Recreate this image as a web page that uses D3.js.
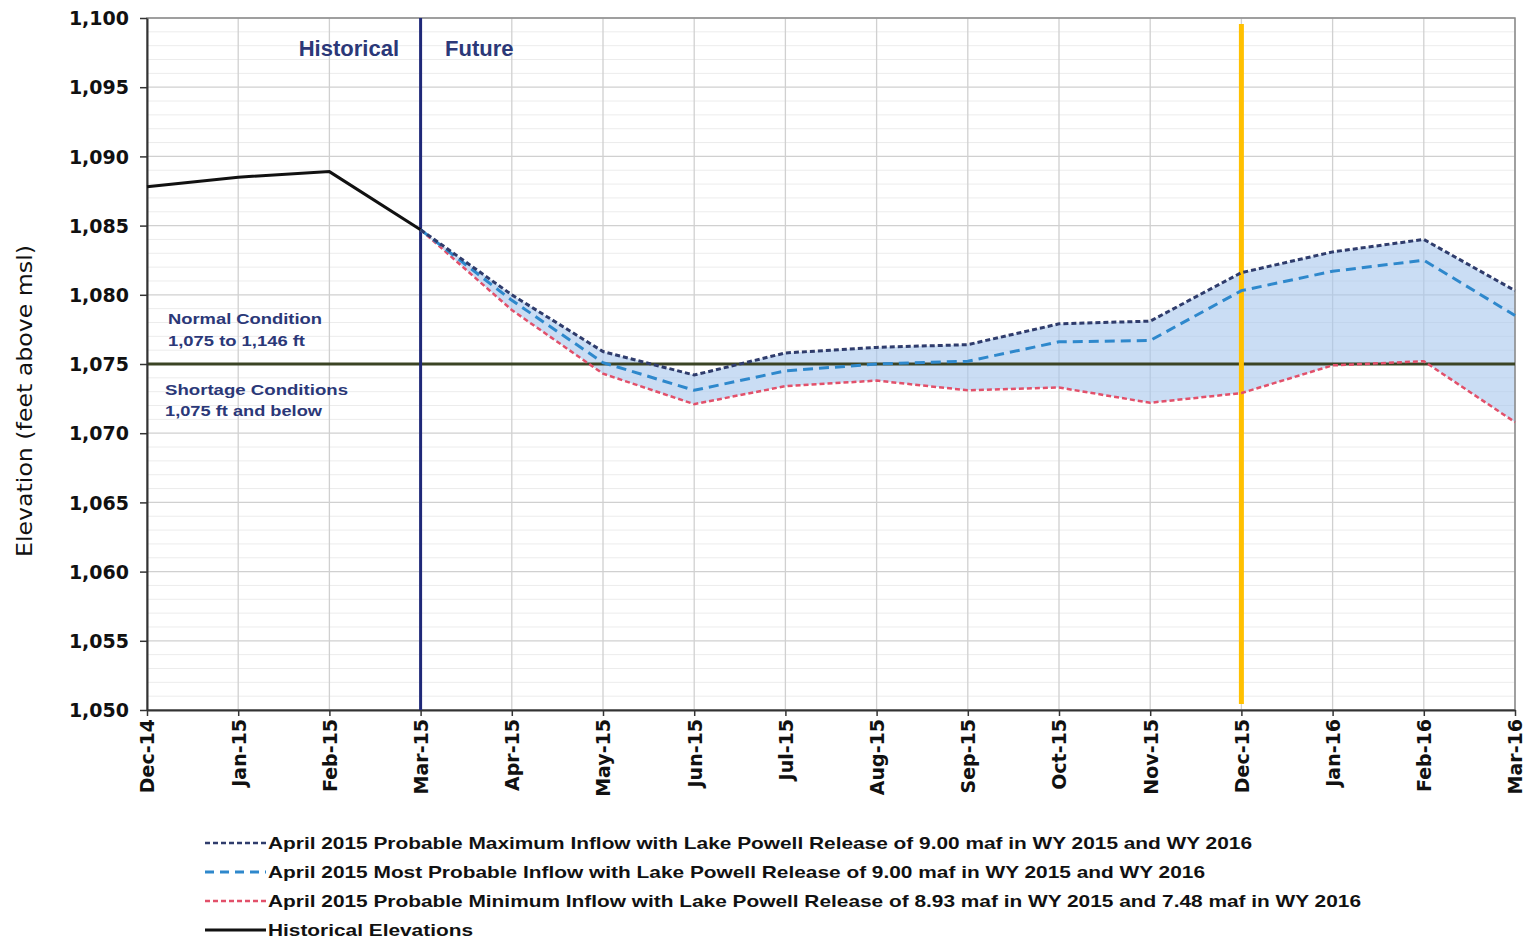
<!DOCTYPE html>
<html><head><meta charset="utf-8">
<script src="https://cdn.jsdelivr.net/npm/d3@7"></script>
<style>body{margin:0;background:#fff}svg{display:block}</style>
</head><body>
<svg id="c" width="1527" height="943"></svg>
<script>
const months = ["Dec-14","Jan-15","Feb-15","Mar-15","Apr-15","May-15","Jun-15","Jul-15","Aug-15","Sep-15","Oct-15","Nov-15","Dec-15","Jan-16","Feb-16","Mar-16"];
const historical = [1087.8,1088.5,1088.9,1084.7];
const futureMonths = months.slice(3);
const maxInflow  = [1084.7,1080.0,1075.9,1074.2,1075.8,1076.2,1076.4,1077.9,1078.1,1081.6,1083.1,1084.0,1080.3];
const mostProb   = [1084.7,1079.6,1075.1,1073.1,1074.5,1075.0,1075.2,1076.6,1076.7,1080.3,1081.7,1082.5,1078.5];
const minInflow  = [1084.7,1078.9,1074.3,1072.1,1073.4,1073.8,1073.1,1073.3,1072.2,1072.9,1074.9,1075.2,1070.8];
const yTicks = [1050,1055,1060,1065,1070,1075,1080,1085,1090,1095,1100];
const legendLabels = [
 "April 2015 Probable Maximum Inflow with Lake Powell Release of 9.00 maf in WY 2015 and WY 2016",
 "April 2015 Most Probable Inflow with Lake Powell Release of 9.00 maf in WY 2015 and WY 2016",
 "April 2015 Probable Minimum Inflow with Lake Powell Release of 8.93 maf in WY 2015 and 7.48 maf in WY 2016",
 "Historical Elevations"];
const shortageLevel = 1075;
const dividerMonth = "Mar-15";
const highlightMonth = "Dec-15";

const svg = d3.select("#c");
const L=147,R=1515,T=18,B=710;
const x = d3.scalePoint().domain(months).range([L,R]);
const y = d3.scaleLinear().domain([1050,1100]).range([B,T]);

// minor gridlines
svg.append("g").selectAll("line").data(d3.range(1051,1100).filter(v=>v%5!==0)).join("line")
 .attr("x1",L).attr("x2",R).attr("y1",d=>y(d)).attr("y2",d=>y(d))
 .attr("stroke","#ececec").attr("stroke-width",1);
// major horizontal grid
svg.append("g").selectAll("line").data(yTicks).join("line")
 .attr("x1",L).attr("x2",R).attr("y1",d=>y(d)).attr("y2",d=>y(d))
 .attr("stroke","#d0d0d0").attr("stroke-width",1.3);
// vertical grid
svg.append("g").selectAll("line").data(months).join("line")
 .attr("x1",d=>x(d)).attr("x2",d=>x(d)).attr("y1",T).attr("y2",B)
 .attr("stroke","#d0d0d0").attr("stroke-width",1.3);

// band fill
const band = futureMonths.map((m,i)=>({m,hi:maxInflow[i],lo:minInflow[i]}));
svg.append("path").datum(band)
 .attr("d",d3.area().x(d=>x(d.m)).y0(d=>y(d.lo)).y1(d=>y(d.hi)))
 .attr("fill","#a6c6ec").attr("fill-opacity",0.6);

// frame
svg.append("rect").attr("x",L).attr("y",T).attr("width",R-L).attr("height",B-T)
 .attr("fill","none").attr("stroke","#8a8a8a").attr("stroke-width",1.5);

// shortage line
svg.append("line").attr("x1",L).attr("x2",R).attr("y1",y(shortageLevel)).attr("y2",y(shortageLevel))
 .attr("stroke","#3b4424").attr("stroke-width",3);

// axes
const yAxis = svg.append("g").attr("transform",`translate(${L},0)`)
 .call(d3.axisLeft(y).tickValues(yTicks).tickFormat(d3.format(",")).tickSize(7).tickSizeOuter(0));
yAxis.select(".domain").attr("stroke","#333").attr("stroke-width",2);
yAxis.selectAll(".tick line").attr("stroke","#333").attr("stroke-width",1.5);
yAxis.selectAll("text").attr("font-family","DejaVu Sans").attr("font-weight","bold").attr("font-size","19px").attr("fill","#111").attr("x",-18).attr("dy","0.35em");

const xAxis = svg.append("g").attr("transform",`translate(0,${B})`)
 .call(d3.axisBottom(x).tickSize(6).tickSizeOuter(0));
xAxis.select(".domain").attr("stroke","#333").attr("stroke-width",2);
xAxis.selectAll(".tick line").attr("stroke","#333").attr("stroke-width",1.5);
xAxis.selectAll("text").attr("font-family","DejaVu Sans").attr("font-weight","bold").attr("font-size","19px").attr("fill","#111")
 .attr("transform","rotate(-90)").attr("text-anchor","end").attr("x",-9).attr("y",0).attr("dy","0.36em");

// Y title
svg.append("text").attr("transform",`translate(32,401) rotate(-90)`)
 .attr("text-anchor","middle").attr("font-family","DejaVu Sans").attr("font-size","21px").attr("fill","#111")
 .attr("textLength",312).attr("lengthAdjust","spacingAndGlyphs")
 .text("Elevation (feet above msl)");

// divider line
svg.append("line").attr("x1",x(dividerMonth)).attr("x2",x(dividerMonth)).attr("y1",T).attr("y2",B)
 .attr("stroke","#1f2878").attr("stroke-width",3);
// highlight line
svg.append("line").attr("x1",x(highlightMonth)).attr("x2",x(highlightMonth)).attr("y1",24).attr("y2",704)
 .attr("stroke","#ffc000").attr("stroke-width",5);

// historical line
svg.append("path").datum(months.slice(0,4).map((m,i)=>({m,v:historical[i]})))
 .attr("d",d3.line().x(d=>x(d.m)).y(d=>y(d.v)))
 .attr("fill","none").attr("stroke","#111").attr("stroke-width",3);

const seriesDefs = [
 {vals:minInflow,color:"#e2506a",dash:"5,3",w:2.5},
 {vals:mostProb,color:"#2e88cc",dash:"10,6",w:3},
 {vals:maxInflow,color:"#2f3c6c",dash:"5,3",w:3}
];
seriesDefs.forEach(s=>{
 svg.append("path").datum(futureMonths.map((m,i)=>({m,v:s.vals[i]})))
  .attr("d",d3.line().x(d=>x(d.m)).y(d=>y(d.v)))
  .attr("fill","none").attr("stroke",s.color).attr("stroke-width",s.w).attr("stroke-dasharray",s.dash);
});

// annotations
const navy="#2b3878";
svg.append("text").attr("x",399).attr("y",56).attr("text-anchor","end").attr("font-family","Liberation Sans").attr("font-weight","bold").attr("font-size","22px").attr("fill",navy).text("Historical");
svg.append("text").attr("x",445).attr("y",56).attr("font-family","Liberation Sans").attr("font-weight","bold").attr("font-size","22px").attr("fill",navy).text("Future");
const ann=[["Normal Condition",168,324,154],["1,075 to 1,146 ft",168,346,137],["Shortage  Conditions",165,395,183],["1,075 ft and below",165,416,157]];
ann.forEach(a=>svg.append("text").attr("x",a[1]).attr("y",a[2]).attr("font-family","Liberation Sans").attr("font-weight","bold").attr("font-size","15px").attr("fill",navy)
 .attr("textLength",a[3]).attr("lengthAdjust","spacingAndGlyphs").text(a[0]));

// legend
const legStyles=[{color:"#2f3c6c",dash:"5,3",w:2.5},{color:"#2e88cc",dash:"9,6",w:3},{color:"#e2506a",dash:"5,3",w:2.5},{color:"#111",dash:null,w:3}];
const legWidths=[984,937,1093,205];
legendLabels.forEach((t,i)=>{
 const yy=843+i*29;
 const ln=svg.append("line").attr("x1",205).attr("x2",266).attr("y1",yy).attr("y2",yy)
  .attr("stroke",legStyles[i].color).attr("stroke-width",legStyles[i].w);
 if(legStyles[i].dash) ln.attr("stroke-dasharray",legStyles[i].dash);
 svg.append("text").attr("x",268).attr("y",yy).attr("dy","0.36em").attr("font-family","Liberation Sans").attr("font-weight","bold").attr("font-size","17px").attr("fill","#111")
  .attr("textLength",legWidths[i]).attr("lengthAdjust","spacingAndGlyphs").text(t);
});
</script>
</body></html>
